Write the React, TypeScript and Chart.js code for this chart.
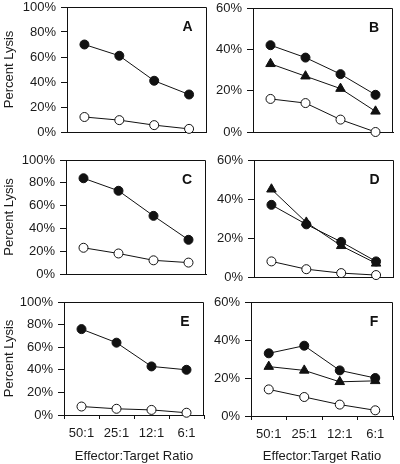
import React, { useEffect, useRef } from "react";
import { Chart, registerables } from "chart.js";
Chart.register(...registerables);

const ratios = ["50:1", "25:1", "12:1", "6:1"];

const aFilled = [70, 61, 41, 30];
const aOpen = [12, 9.5, 5.5, 2.5];

const bCircle = [42, 36, 28, 18];
const bTriangle = [33, 27, 21, 10];
const bOpen = [16, 14, 6, 0];

const cFilled = [84, 73, 51, 30];
const cOpen = [23, 18, 12, 10];

const dTriangle = [45, 28, 16, 7];
const dCircle = [37, 27, 18, 8];
const dOpen = [8, 4, 2, 1];

const eFilled = [76, 64, 43, 40];
const eOpen = [7.5, 5.5, 4.5, 2];

const fCircle = [33, 37, 24, 20];
const fTriangle = [26, 24, 18, 18.5];
const fOpen = [14, 10, 6, 3];

const yTitle = "Percent Lysis";
const xTitle = "Effector:Target Ratio";

type Kind = "filled" | "open" | "triangle";
type Panel = {
  letter: string;
  series: { data: number[]; kind: Kind }[];
  yMax: number;
  left: number; right: number; top: number; bottom: number;
  cx: number; cy: number; cw: number; ch: number;
  showX: boolean; showYTitle: boolean;
};

const panels: Panel[] = [
  { letter: "A", series: [{ data: aFilled, kind: "filled" }, { data: aOpen, kind: "open" }], yMax: 100,
    left: 67, right: 208, top: 7, bottom: 132, cx: 0, cy: 0, cw: 212, ch: 145, showX: false, showYTitle: true },
  { letter: "B", series: [{ data: bCircle, kind: "filled" }, { data: bTriangle, kind: "triangle" }, { data: bOpen, kind: "open" }], yMax: 60,
    left: 253, right: 393, top: 8, bottom: 132, cx: 212, cy: 0, cw: 188, ch: 145, showX: false, showYTitle: false },
  { letter: "C", series: [{ data: cFilled, kind: "filled" }, { data: cOpen, kind: "open" }], yMax: 100,
    left: 66, right: 206, top: 160, bottom: 274, cx: 0, cy: 145, cw: 212, ch: 145, showX: false, showYTitle: true },
  { letter: "D", series: [{ data: dCircle, kind: "filled" }, { data: dTriangle, kind: "triangle" }, { data: dOpen, kind: "open" }], yMax: 60,
    left: 254, right: 394, top: 160, bottom: 277, cx: 212, cy: 145, cw: 188, ch: 145, showX: false, showYTitle: false },
  { letter: "E", series: [{ data: eFilled, kind: "filled" }, { data: eOpen, kind: "open" }], yMax: 100,
    left: 64, right: 204, top: 302, bottom: 415, cx: 0, cy: 290, cw: 212, ch: 174, showX: true, showYTitle: true },
  { letter: "F", series: [{ data: fCircle, kind: "filled" }, { data: fTriangle, kind: "triangle" }, { data: fOpen, kind: "open" }], yMax: 60,
    left: 251, right: 393, top: 302, bottom: 416, cx: 212, cy: 290, cw: 188, ch: 174, showX: true, showYTitle: false },
];

const FONT = "'Liberation Sans', Arial, Helvetica, sans-serif";
const TEXT = "#1a1a1a";
const INK = "#111";

function PanelChart({ p }: { p: Panel }) {
  const ref = useRef<HTMLCanvasElement | null>(null);
  useEffect(() => {
    if (!ref.current) return;
    const boxPlugin = {
      id: "boxAndLetter",
      afterDraw(chart: any) {
        const { ctx, chartArea } = chart;
        const { left, right, top, bottom } = chartArea;
        ctx.save();
        ctx.strokeStyle = INK;
        ctx.lineWidth = 1;
        ctx.beginPath();
        const t = Math.round(top) + 0.5;
        const r = Math.round(right) - 0.5;
        ctx.moveTo(Math.round(left), t);
        ctx.lineTo(r, t);
        ctx.lineTo(r, Math.round(bottom));
        ctx.stroke();
        ctx.fillStyle = INK;
        ctx.font = `bold 14px ${FONT}`;
        ctx.textAlign = "center";
        ctx.textBaseline = "middle";
        ctx.fillText(p.letter, right - 19, top + 20);
        ctx.restore();
      },
    };
    const datasets = p.series.map((s) => ({
      data: s.data,
      borderColor: INK,
      borderWidth: 1,
      pointStyle: s.kind === "triangle" ? "triangle" : "circle",
      pointRadius: s.kind === "triangle" ? 5.5 : 4.5,
      pointBorderWidth: 1,
      pointBorderColor: INK,
      pointBackgroundColor: s.kind === "open" ? "#fff" : INK,
      clip: false as any,
      tension: 0,
    }));
    const chart = new Chart(ref.current, {
      type: "line",
      data: { labels: ratios, datasets },
      plugins: [boxPlugin],
      options: {
        animation: false,
        responsive: false,
        maintainAspectRatio: false,
        layout: { padding: { top: p.top - p.cy, right: p.cx + p.cw - p.right, bottom: 0, left: 0 } },
        plugins: { legend: { display: false }, tooltip: { enabled: false } },
        scales: {
          x: {
            type: "category",
            offset: true,
            grid: { display: true, offset: true, drawOnChartArea: false, drawTicks: p.showX, tickLength: 4, color: INK },
            border: { display: true, color: INK, width: 1 },
            ticks: { display: p.showX, color: TEXT, font: { family: FONT, size: 13 }, padding: 7, maxRotation: 0 },
            title: { display: p.showX, text: xTitle, color: TEXT, font: { family: FONT, size: 13 }, padding: { top: 0, bottom: 0 } },
            afterFit: (s: any) => {
              s.height = p.cy + p.ch - p.bottom;
              s.paddingLeft = 0;
              s.paddingRight = 0;
            },
          },
          y: {
            min: 0,
            max: p.yMax,
            grid: { display: true, drawOnChartArea: false, drawTicks: true, tickLength: 6, color: INK },
            border: { display: true, color: INK, width: 1 },
            ticks: { stepSize: 20, color: TEXT, font: { family: FONT, size: 13 }, padding: 5, callback: (v: any) => `${v}%` },
            title: { display: p.showYTitle, text: yTitle, color: TEXT, font: { family: FONT, size: 13 }, padding: { top: 2, bottom: 0 } },
            afterFit: (s: any) => {
              s.width = p.left - p.cx;
              s.paddingTop = 0;
              s.paddingBottom = 0;
            },
          },
        },
      },
    } as any);
    return () => chart.destroy();
  }, [p]);
  return (
    <canvas
      ref={ref}
      width={p.cw}
      height={p.ch}
      style={{ position: "absolute", left: p.cx, top: p.cy, width: p.cw, height: p.ch }}
    />
  );
}

export default function App() {
  return (
    <div style={{ position: "absolute", left: 0, top: 0, width: 400, height: 464, background: "#fff" }}>
      {panels.map((p) => (
        <PanelChart key={p.letter} p={p} />
      ))}
    </div>
  );
}
